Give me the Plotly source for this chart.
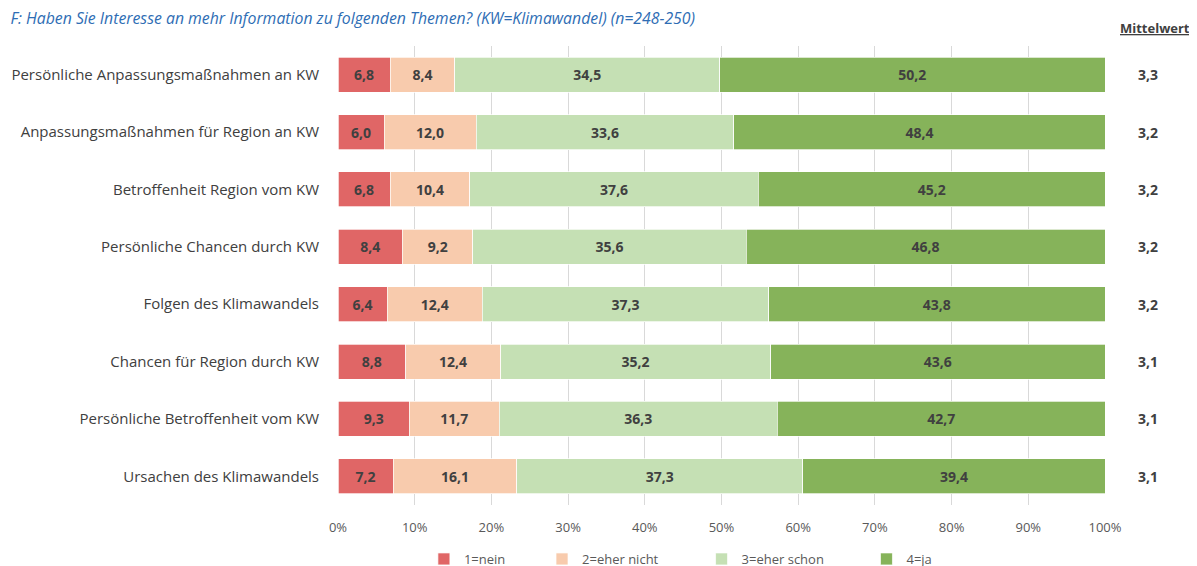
import plotly.graph_objects as go

categories = [
    "Persönliche Anpassungsmaßnahmen an KW",
    "Anpassungsmaßnahmen für Region an KW",
    "Betroffenheit Region vom KW",
    "Persönliche Chancen durch KW",
    "Folgen des Klimawandels",
    "Chancen für Region durch KW",
    "Persönliche Betroffenheit vom KW",
    "Ursachen des Klimawandels",
]
nein = [6.8, 6.0, 6.8, 8.4, 6.4, 8.8, 9.3, 7.2]
eher_nicht = [8.4, 12.0, 10.4, 9.2, 12.4, 12.4, 11.7, 16.1]
eher_schon = [34.5, 33.6, 37.6, 35.6, 37.3, 35.2, 36.3, 37.3]
ja = [50.2, 48.4, 45.2, 46.8, 43.8, 43.6, 42.7, 39.4]
mittelwert = [3.3, 3.2, 3.2, 3.2, 3.2, 3.1, 3.1, 3.1]
series_names = ["1=nein", "2=eher nicht", "3=eher schon", "4=ja"]
colors = ["#E06666", "#F8CBAD", "#C5E0B4", "#86B35A"]
legend_ids = ["legend", "legend2", "legend3", "legend4"]
legend_x = [0.112, 0.266, 0.474, 0.689]

FONT = "Open Sans"
fig = go.Figure()
for name, vals, col, lid in zip(series_names, [nein, eher_nicht, eher_schon, ja], colors, legend_ids):
    fig.add_trace(go.Bar(
        y=categories, x=vals, name=name, orientation="h", legend=lid, showlegend=True,
        marker=dict(color=col, line=dict(color="white", width=0.7)),
        text=[f"{v:.1f}".replace(".", ",") for v in vals],
        textposition="inside", insidetextanchor="middle",
        textfont=dict(family=FONT, size=14, color="#404040", weight="bold"),
        cliponaxis=False,
    ))

for cat, m in zip(categories, mittelwert):
    fig.add_annotation(x=1.056, xref="paper", xanchor="center", y=cat, yref="y",
                       text=f"<b>{m:.1f}</b>".replace(".", ","), showarrow=False,
                       font=dict(family=FONT, size=14, color="#404040"))

fig.add_annotation(x=1.065, xref="paper", xanchor="center", y=1.039, yref="paper", yanchor="middle",
                   text="<b><u>Mittelwert</u></b>", showarrow=False,
                   font=dict(family=FONT, size=13, color="#404040"))

legend_common = dict(orientation="h", yref="container", y=0.0265, yanchor="middle", xanchor="left",
                     font=dict(family=FONT, size=13, color="#595959"),
                     bgcolor="rgba(0,0,0,0)")
legends = {lid: dict(legend_common, x=lx) for lid, lx in zip(legend_ids, legend_x)}

fig.update_layout(
    barmode="stack", barnorm="percent", bargap=0.39,
    width=1197, height=566, showlegend=True,
    margin=dict(l=330, r=100, t=38, b=69, autoexpand=False),
    plot_bgcolor="white", paper_bgcolor="white",
    font=dict(family=FONT, size=13, color="#404040"),
    title=dict(text="<i>F: Haben Sie Interesse an mehr Information zu folgenden Themen? (KW=Klimawandel) (n=248-250)</i>",
               x=0.002, xanchor="left", y=0.982, yanchor="middle",
               font=dict(family=FONT, size=15.8, color="#2E6DB4")),
    xaxis=dict(range=[0, 100], tickvals=list(range(0, 101, 10)),
               ticktext=[f"{v}%" for v in range(0, 101, 10)],
               showgrid=True, gridcolor="#D9D9D9", gridwidth=1,
               zeroline=False, showline=False, ticks="", ticklabelstandoff=13,
               tickfont=dict(family=FONT, size=13, color="#595959")),
    yaxis=dict(autorange="reversed", showgrid=False, ticks="", ticklabelstandoff=18,
               tickfont=dict(family=FONT, size=15, color="#404040")),
    uniformtext=dict(mode="show", minsize=8),
    **legends,
)
fig.write_html("out.html")
